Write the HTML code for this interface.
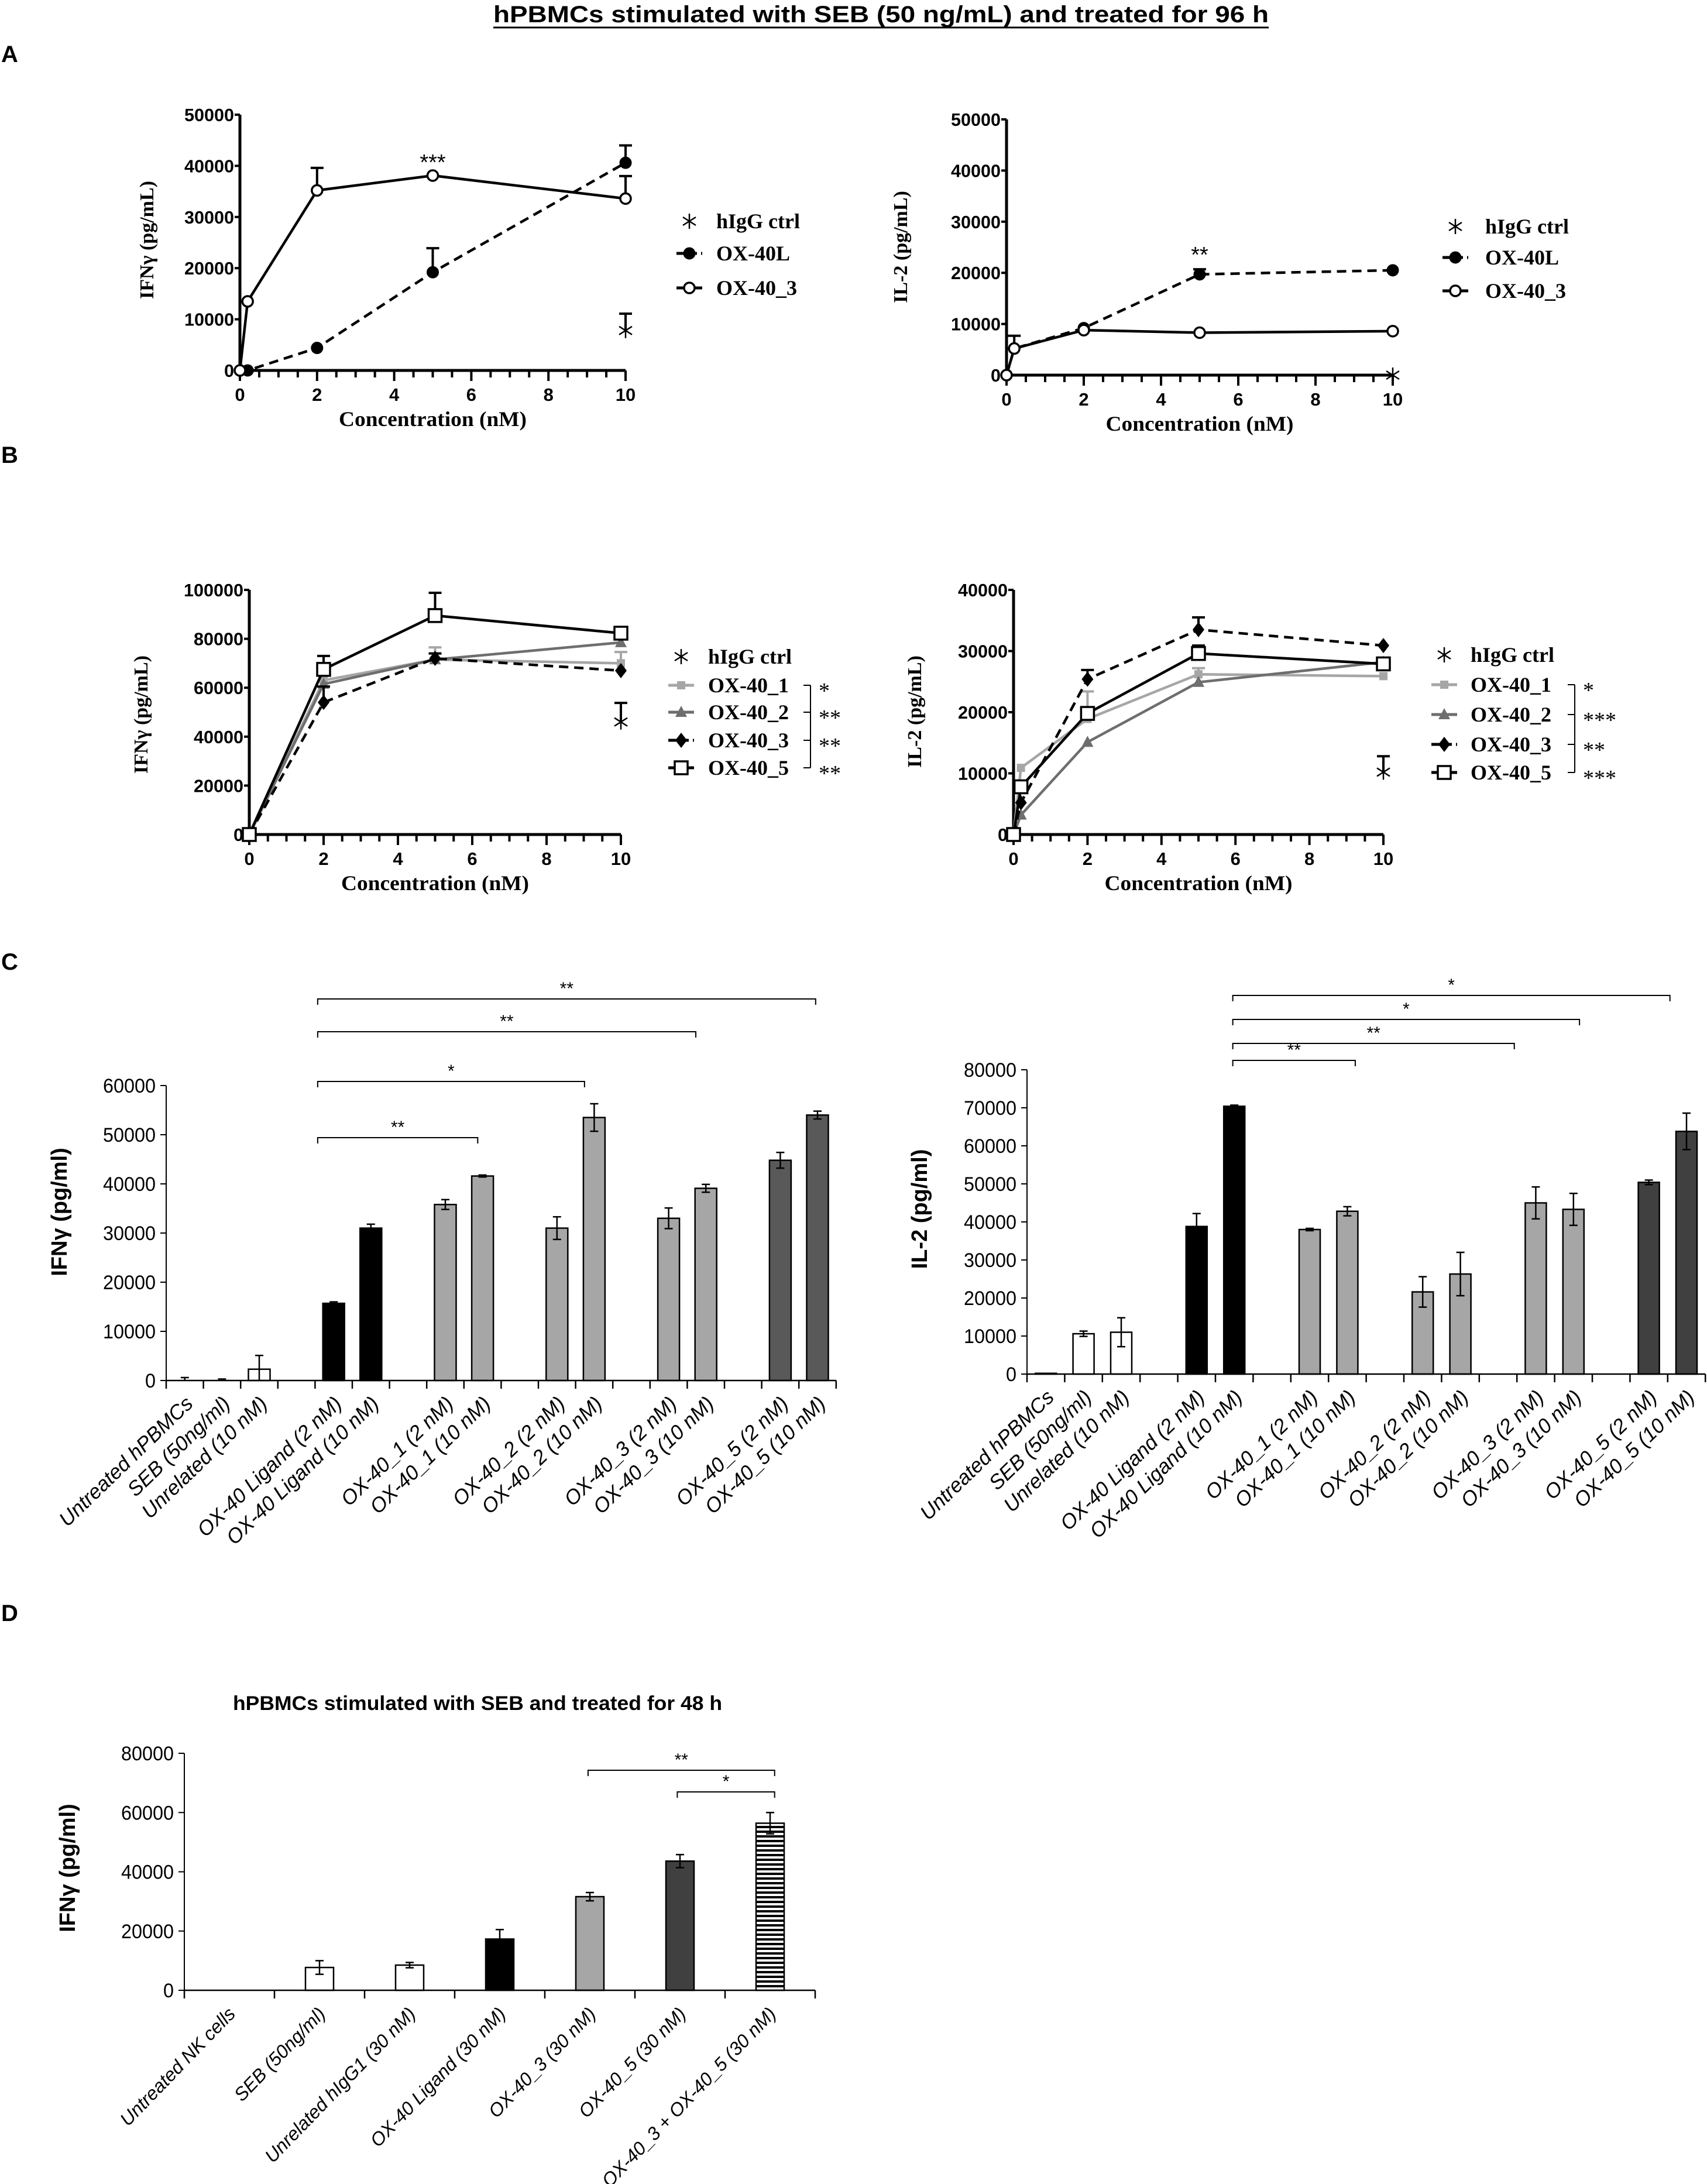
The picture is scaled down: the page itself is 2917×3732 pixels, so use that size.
<!DOCTYPE html>
<html><head><meta charset="utf-8"><style>
html,body{margin:0;padding:0;background:#fff}
svg{display:block}
</style></head><body>
<svg id="fig" xmlns="http://www.w3.org/2000/svg" width="2917" height="3732" viewBox="0 0 2917 3732">
<rect x="0" y="0" width="2917" height="3732" fill="#fff"/>
<text x="843" y="38" font-family="Liberation Sans, sans-serif" font-weight="bold" font-size="40" textLength="1325" lengthAdjust="spacingAndGlyphs">hPBMCs stimulated with SEB (50 ng/mL) and treated for 96 h</text>
<line x1="843" y1="47" x2="2168" y2="47" stroke="#000" stroke-width="3"/>
<text x="2" y="106" font-family="Liberation Sans, sans-serif" font-weight="bold" font-size="40">A</text>
<text x="2" y="791" font-family="Liberation Sans, sans-serif" font-weight="bold" font-size="40">B</text>
<text x="2" y="1657" font-family="Liberation Sans, sans-serif" font-weight="bold" font-size="40">C</text>
<text x="2" y="2770" font-family="Liberation Sans, sans-serif" font-weight="bold" font-size="40">D</text>
<text x="816" y="2922" text-anchor="middle" font-family="Liberation Sans, sans-serif" font-weight="bold" font-size="34" textLength="836" lengthAdjust="spacingAndGlyphs">hPBMCs stimulated with SEB and treated for 48 h</text>
<defs>
<pattern id="hstripes" patternUnits="userSpaceOnUse" width="10" height="8">
<rect x="0" y="0" width="10" height="8" fill="#fff"/><rect x="0" y="0" width="10" height="4" fill="#000"/>
</pattern>
</defs>
<g id="plots"></g>
</svg>
<script>
// ---------- Panel A data ----------
const aConc = [0, 0.2, 2, 5, 10];
const aIfnOx40L = [0, 0, 4400, 19200, 40600];
const aIfnOx40LErr = [0, 0, 0, 4700, 3400];
const aIfnOx403 = [0, 13500, 35200, 38100, 33600];
const aIfnOx403Err = [0, 0, 4400, 0, 4400];
const aIgGConc = [10];
const aIfnIgG = [7800];
const aIfnIgGErr = [3300];
const aIl2Ox40L = [0, 5200, 9200, 19700, 20500];
const aIl2Ox40LErr = [0, 0, 0, 1000, 0];
const aIl2Ox403 = [0, 5200, 8800, 8300, 8600];
const aIl2Ox403Err = [0, 2500, 0, 0, 0];
const aIl2IgG = [0];
const aIl2IgGErr = [0];
const aYTicks = [0, 10000, 20000, 30000, 40000, 50000];
const xTickLabels = [0, 2, 4, 6, 8, 10];
// ---------- Panel B data ----------
const bIfnConc = [0, 2, 5, 10];
const bIfn1 = [0, 63000, 71500, 70000];
const bIfn1Err = [0, 0, 5000, 4600];
const bIfn2 = [0, 61500, 71500, 78500];
const bIfn2Err = [0, 0, 0, 0];
const bIfn3 = [0, 54000, 72000, 67000];
const bIfn3Err = [0, 6500, 2000, 0];
const bIfn5 = [0, 67500, 89500, 82300];
const bIfn5Err = [0, 5500, 9300, 0];
const bIfnIgG = [46000];
const bIfnIgGErr = [7800];
const bIl2Conc = [0, 0.2, 2, 5, 10];
const bIl2_1 = [0, 10900, 18900, 26200, 25900];
const bIl2_1Err = [0, 0, 4500, 1000, 0];
const bIl2_2 = [0, 3200, 15100, 24900, 28200];
const bIl2_2Err = [0, 0, 0, 0, 0];
const bIl2_3 = [0, 5200, 25400, 33500, 30900];
const bIl2_3Err = [0, 0, 1500, 2000, 0];
const bIl2_5 = [0, 7800, 19800, 29600, 27900];
const bIl2_5Err = [0, 0, 0, 1300, 0];
const bIl2IgG = [10200];
const bIl2IgGErr = [2600];
const bIfnYTicks = [0, 20000, 40000, 60000, 80000, 100000];
const bIl2YTicks = [0, 10000, 20000, 30000, 40000];
const bIfnSig = ["*", "**", "**", "**"];
const bIl2Sig = ["*", "***", "**", "***"];
// ---------- Panel C data ----------
const cCategories = ["Untreated hPBMCs", "SEB (50ng/ml)", "Unrelated (10 nM)", "", "OX-40 Ligand (2 nM)", "OX-40 Ligand (10 nM)", "", "OX-40_1 (2 nM)", "OX-40_1 (10 nM)", "", "OX-40_2 (2 nM)", "OX-40_2 (10 nM)", "", "OX-40_3 (2 nM)", "OX-40_3 (10 nM)", "", "OX-40_5 (2 nM)", "OX-40_5 (10 nM)"];
const cIfn = [0, 0, 2300, null, 15700, 31000, null, 35800, 41600, null, 31000, 53500, null, 33000, 39100, null, 44800, 54000];
const cIfnErr = [600, 300, 2800, 0, 300, 800, 0, 1000, 200, 0, 2300, 2800, 0, 2100, 800, 0, 1600, 800];
const cIl2 = [200, 10600, 11000, null, 38800, 70400, null, 38000, 42800, null, 21600, 26300, null, 45000, 43300, null, 50400, 63800];
const cIl2Err = [0, 700, 3800, 0, 3400, 300, 0, 300, 1200, 0, 4000, 5700, 0, 4200, 4200, 0, 600, 4800];
const cIfnYTicks = [0, 10000, 20000, 30000, 40000, 50000, 60000];
const cIl2YTicks = [0, 10000, 20000, 30000, 40000, 50000, 60000, 70000, 80000];
const cIfnSig = ["**", "*", "**", "**"];
const cIl2Sig = ["**", "**", "*", "*"];
// ---------- Panel D data ----------
const dCategories = ["Untreated NK cells", "SEB (50ng/ml)", "Unrelated hIgG1 (30 nM)", "OX-40 Ligand (30 nM)", "OX-40_3 (30 nM)", "OX-40_5 (30 nM)", "OX-40_3 + OX-40_5 (30 nM)"];
const dIfn = [0, 7700, 8500, 17300, 31600, 43600, 56400];
const dIfnErr = [0, 2300, 900, 3200, 1400, 2200, 3600];
const dYTicks = [0, 20000, 40000, 60000, 80000];
const dSig = ["**", "*"];

const NS = "http://www.w3.org/2000/svg";
const root = document.getElementById("plots");
function mk(tag, attrs, parent) {
  const e = document.createElementNS(NS, tag);
  for (const k in attrs) e.setAttribute(k, attrs[k]);
  (parent || root).appendChild(e);
  return e;
}
function txt(s, attrs, parent) { const t = mk("text", attrs, parent); t.textContent = s; return t; }

function drawMarker(g, type, cx, cy, color) {
  let m;
  if (type === "fcircle") m = mk("circle", {cx, cy, r: 9, fill: "#000", stroke: "#000", "stroke-width": 3}, g);
  else if (type === "ocircle") m = mk("circle", {cx, cy, r: 9, fill: "#fff", stroke: "#000", "stroke-width": 3.5}, g);
  else if (type === "fsq") m = mk("rect", {x: cx - 7, y: cy - 7, width: 14, height: 14, fill: color}, g);
  else if (type === "tri") m = mk("polygon", {points: `${cx},${cy - 11} ${cx - 10},${cy + 8} ${cx + 10},${cy + 8}`, fill: color}, g);
  else if (type === "diamond") m = mk("polygon", {points: `${cx},${cy - 13} ${cx + 10},${cy} ${cx},${cy + 13} ${cx - 10},${cy}`, fill: "#000"}, g);
  else if (type === "osq") m = mk("rect", {x: cx - 11, y: cy - 11, width: 22, height: 22, fill: "#fff", stroke: "#000", "stroke-width": 3.5}, g);
  else if (type === "star") {
    m = mk("g", {stroke: "#000", "stroke-width": 2.5}, g);
    mk("line", {x1: cx, y1: cy - 13, x2: cx, y2: cy + 13}, m);
    mk("line", {x1: cx - 11, y1: cy - 7, x2: cx + 11, y2: cy + 7}, m);
    mk("line", {x1: cx - 11, y1: cy + 7, x2: cx + 11, y2: cy - 7}, m);
  }
  
  
  return m;
}

function lineChart(c) {
  const g = mk("g", {});
  
  
  const xs = v => c.x0 + (v / 10) * (c.x10 - c.x0);
  const ys = v => c.y0 - (v / c.ymax) * (c.y0 - c.ytop);
  const serif = "Liberation Serif, serif";
  const ya = mk("line", {x1: c.x0, y1: c.y0, x2: c.x0, y2: c.ytop, stroke: "#000", "stroke-width": 5}, g);
  
  
  const xa = mk("line", {x1: c.x0, y1: c.y0, x2: c.x10, y2: c.y0, stroke: "#000", "stroke-width": 5}, g);
  
  
  c.yTicks.forEach(v => {
    mk("line", {x1: c.x0 - 9, y1: ys(v), x2: c.x0, y2: ys(v), stroke: "#000", "stroke-width": 4}, g);
    const t = txt(String(v), {x: c.x0 - 10, y: ys(v) + 11, "text-anchor": "end", "font-family": "Liberation Sans, sans-serif", "font-weight": "bold", "font-size": 31, textLength: 17 * String(v).length, lengthAdjust: "spacingAndGlyphs"}, g);
    
    
  });
  for (let i = 0; i <= 20; i++) {
    const v = i * 0.5;
    mk("line", {x1: xs(v), y1: c.y0, x2: xs(v), y2: c.y0 + (i % 4 === 0 ? 18 : 12), stroke: "#000", "stroke-width": 4}, g);
  }
  xTickLabels.forEach(v => {
    const t = txt(String(v), {x: xs(v), y: c.y0 + 52, "text-anchor": "middle", "font-family": "Liberation Sans, sans-serif", "font-weight": "bold", "font-size": 31}, g);
    
    
  });
  const xt = txt("Concentration (nM)", {x: (c.x0 + c.x10) / 2, y: c.y0 + 95, "text-anchor": "middle", "font-family": serif, "font-weight": "bold", "font-size": 36, textLength: 321, lengthAdjust: "spacingAndGlyphs"}, g);
  
  
  const yt = txt(c.ytitle, {x: 0, y: 0, transform: `translate(${c.ytx},${c.tyc}) rotate(-90)`, "text-anchor": "middle", "font-family": serif, "font-weight": "bold", "font-size": 34}, g);
  
  
  c.series.forEach(s => {
    const sg = mk("g", {}, g);
    
    
    const col = s.color || "#000";
    s.y.forEach((v, i) => {
      const e = s.err[i];
      if (e > 0) {
        const px = xs(s.x[i]);
        mk("line", {x1: px, y1: ys(v), x2: px, y2: ys(v + e), stroke: col, "stroke-width": 4}, sg);
        mk("line", {x1: px - 11, y1: ys(v + e), x2: px + 11, y2: ys(v + e), stroke: col, "stroke-width": 4}, sg);
      }
    });
    if (s.y.length > 1) {
      const pts = s.y.map((v, i) => `${xs(s.x[i])},${ys(v)}`).join(" ");
      const pl = mk("polyline", {points: pts, fill: "none", stroke: col, "stroke-width": 4.5, "stroke-dasharray": s.dash ? "16 10" : "none"}, sg);
      
      
    }
    s.y.forEach((v, i) => drawMarker(sg, s.marker, xs(s.x[i]), ys(v), col));
  });
  c.series.forEach((s, i) => {
    const ly = c.legY[i];
    const lg = mk("g", {}, g);
    
    
    if (s.marker !== "star") {
      mk("line", {x1: c.legX - 22, y1: ly, x2: c.legX + 22, y2: ly, stroke: s.color || "#000", "stroke-width": 5, "stroke-dasharray": s.dash ? "14 7" : "none"}, lg);
    }
    drawMarker(lg, s.marker, c.legX, ly, s.color || "#000");
    txt(s.label, {x: c.legTextX, y: ly + 12, "font-family": serif, "font-weight": "bold", "font-size": 36}, lg);
  });
  (c.sigPts || []).forEach(p => {
    const t = txt(p.s, {x: xs(p.x), y: p.y, "text-anchor": "middle", "font-family": "Liberation Sans, sans-serif", "font-size": 38}, g);
    
    
  });
  if (c.brX) {
    const ys2 = c.legY.slice(1);
    const bg = mk("g", {stroke: "#000", "stroke-width": 2}, g);
    
    
    mk("line", {x1: c.brX, y1: ys2[0], x2: c.brX, y2: ys2[3]}, bg);
    ys2.forEach(y => mk("line", {x1: c.brX - 12, y1: y, x2: c.brX, y2: y}, bg));
    c.sig.forEach((s, i) => {
      const t = txt(s, {x: c.brX + 14, y: ys2[i] + 22, "font-family": "Liberation Serif, serif", "font-size": 38, stroke: "none"}, g);
      
      
    });
  }
}

lineChart({name: "panel-a-ifng-chart", x0: 410, x10: 1069, y0: 633, ytop: 196, ymax: 50000, yTicks: aYTicks,
  ytitle: "IFNγ (pg/mL)", ytx: 262, tyc: 410,
  series: [
    {label: "hIgG ctrl", x: aIgGConc, y: aIfnIgG, err: aIfnIgGErr, marker: "star"},
    {label: "OX-40L", x: aConc, y: aIfnOx40L, err: aIfnOx40LErr, marker: "fcircle", dash: true},
    {label: "OX-40_3", x: aConc, y: aIfnOx403, err: aIfnOx403Err, marker: "ocircle"}],
  legX: 1178, legTextX: 1224, legY: [378, 433, 492],
  sigPts: [{s: "***", x: 5, y: 290}]});

lineChart({name: "panel-a-il2-chart", x0: 1720, x10: 2380, y0: 641, ytop: 204, ymax: 50000, yTicks: aYTicks,
  ytitle: "IL-2 (pg/mL)", ytx: 1550, tyc: 422,
  series: [
    {label: "hIgG ctrl", x: aIgGConc, y: aIl2IgG, err: aIl2IgGErr, marker: "star"},
    {label: "OX-40L", x: aConc, y: aIl2Ox40L, err: aIl2Ox40LErr, marker: "fcircle", dash: true},
    {label: "OX-40_3", x: aConc, y: aIl2Ox403, err: aIl2Ox403Err, marker: "ocircle"}],
  legX: 2487, legTextX: 2538, legY: [387, 440, 497],
  sigPts: [{s: "**", x: 5, y: 448}]});

lineChart({name: "panel-b-ifng-chart", x0: 426, x10: 1061, y0: 1426, ytop: 1008, ymax: 100000, yTicks: bIfnYTicks,
  ytitle: "IFNγ (pg/mL)", ytx: 252, tyc: 1221,
  series: [
    {label: "hIgG ctrl", x: aIgGConc, y: bIfnIgG, err: bIfnIgGErr, marker: "star"},
    {label: "OX-40_1", x: bIfnConc, y: bIfn1, err: bIfn1Err, marker: "fsq", color: "#a6a6a6"},
    {label: "OX-40_2", x: bIfnConc, y: bIfn2, err: bIfn2Err, marker: "tri", color: "#6e6e6e"},
    {label: "OX-40_3", x: bIfnConc, y: bIfn3, err: bIfn3Err, marker: "diamond", dash: true},
    {label: "OX-40_5", x: bIfnConc, y: bIfn5, err: bIfn5Err, marker: "osq"}],
  legX: 1164, legTextX: 1210, legY: [1122, 1171, 1217, 1265, 1312],
  brX: 1385, sig: bIfnSig});

lineChart({name: "panel-b-il2-chart", x0: 1732, x10: 2364, y0: 1426, ytop: 1008, ymax: 40000, yTicks: bIl2YTicks,
  ytitle: "IL-2 (pg/mL)", ytx: 1574, tyc: 1216,
  series: [
    {label: "hIgG ctrl", x: aIgGConc, y: bIl2IgG, err: bIl2IgGErr, marker: "star"},
    {label: "OX-40_1", x: bIl2Conc, y: bIl2_1, err: bIl2_1Err, marker: "fsq", color: "#a6a6a6"},
    {label: "OX-40_2", x: bIl2Conc, y: bIl2_2, err: bIl2_2Err, marker: "tri", color: "#6e6e6e"},
    {label: "OX-40_3", x: bIl2Conc, y: bIl2_3, err: bIl2_3Err, marker: "diamond", dash: true},
    {label: "OX-40_5", x: bIl2Conc, y: bIl2_5, err: bIl2_5Err, marker: "osq"}],
  legX: 2468, legTextX: 2513, legY: [1119, 1170, 1221, 1272, 1320],
  brX: 2691, sig: bIl2Sig});

function barFill(name, darkCol) {
  if (name.indexOf("+") >= 0) return "url(#hstripes)";
  if (name.indexOf("Ligand") >= 0) return "#000";
  if (name.indexOf("OX-40_5") >= 0) return darkCol;
  if (name.indexOf("OX-40_") >= 0) return "#a6a6a6";
  return "#fff";
}

function barChart(c) {
  const g = mk("g", {});
  
  
  const n = c.cats.length;
  const cx = i => c.ax + c.slotW * (i + 0.5);
  const ys = v => c.ay - (v / c.ymax) * (c.ay - c.ytop);
  const sans = "Liberation Sans, sans-serif";
  const ya = mk("line", {x1: c.ax, y1: c.ay, x2: c.ax, y2: c.ytop, stroke: "#000", "stroke-width": 2}, g);
  
  
  c.yTicks.forEach(v => {
    mk("line", {x1: c.ax - 10, y1: ys(v), x2: c.ax, y2: ys(v), stroke: "#000", "stroke-width": 2}, g);
    const t = txt(String(v), {x: c.ax - 18, y: ys(v) + 12, "text-anchor": "end", "font-family": sans, "font-size": 34, textLength: 18 * String(v).length, lengthAdjust: "spacingAndGlyphs"}, g);
    
    
  });
  const yt = txt(c.ytitle, {x: 0, y: 0, transform: `translate(${c.ytx},${c.tyc}) rotate(-90)`, "text-anchor": "middle", "font-family": sans, "font-weight": "bold", "font-size": 38}, g);
  
  
  c.vals.forEach((v, i) => {
    if (v === null) return;
    const b = mk("rect", {x: cx(i) - c.barW / 2, y: ys(v), width: c.barW, height: c.ay - ys(v), fill: barFill(c.cats[i], c.dark), stroke: "#000", "stroke-width": 2.5}, g);
    
    
    const e = c.errs[i];
    if (e > 0) {
      const eg = mk("g", {stroke: "#000", "stroke-width": 2.5}, g);
      
      
      mk("line", {x1: cx(i), y1: ys(v - e) > c.ay ? c.ay : ys(v - e), x2: cx(i), y2: ys(v + e)}, eg);
      mk("line", {x1: cx(i) - 7, y1: ys(v + e), x2: cx(i) + 7, y2: ys(v + e)}, eg);
      if (ys(v - e) <= c.ay) mk("line", {x1: cx(i) - 7, y1: ys(v - e), x2: cx(i) + 7, y2: ys(v - e)}, eg);
    }
  });
  const xa = mk("line", {x1: c.ax, y1: c.ay, x2: c.ax + c.slotW * n, y2: c.ay, stroke: "#000", "stroke-width": 2.5}, g);
  
  
  for (let i = 0; i <= n; i++) mk("line", {x1: c.ax + c.slotW * i, y1: c.ay, x2: c.ax + c.slotW * i, y2: c.ay + 14, stroke: "#000", "stroke-width": 2.5}, g);
  c.cats.forEach((s, i) => {
    if (!s) return;
    const t = txt(s, {x: 0, y: 0, transform: `translate(${cx(i) + c.lblDx},${c.ay + c.lblDy}) rotate(${c.rot})`, "text-anchor": "end", "font-family": sans, "font-style": "italic", "font-size": c.lblSize}, g);
    
    
  });
  c.brackets.forEach((b, k) => {
    const bg = mk("g", {stroke: "#000", "stroke-width": 2}, g);
    
    
    const x1 = c.ax + c.slotW * b.from, x2 = c.ax + c.slotW * b.to;
    mk("path", {d: `M${x1},${b.y + 10} L${x1},${b.y} L${x2},${b.y} L${x2},${b.y + 10}`, fill: "none"}, bg);
    const t = txt(c.sig[k], {x: (x1 + x2) / 2, y: b.y - 8, "text-anchor": "middle", "font-family": sans, "font-size": 30, stroke: "none"}, g);
    
    
  });
}

barChart({name: "panel-c-ifng-chart", cats: cCategories, vals: cIfn, errs: cIfnErr, ax: 284, ay: 2359, ytop: 1855, ymax: 60000,
  slotW: 63.6, barW: 37, yTicks: cIfnYTicks, ytitle: "IFNγ (pg/ml)", ytx: 114, tyc: 2071, dark: "#595959",
  lblDx: 16, lblDy: 42, rot: -44, lblSize: 35,
  brackets: [{from: 4.07, to: 8.37, y: 1944}, {from: 4.07, to: 11.24, y: 1848}, {from: 4.07, to: 14.23, y: 1763}, {from: 4.07, to: 17.45, y: 1707}],
  sig: cIfnSig});

barChart({name: "panel-c-il2-chart", cats: cCategories, vals: cIl2, errs: cIl2Err, ax: 1755, ay: 2348, ytop: 1828, ymax: 80000,
  slotW: 64.4, barW: 36, yTicks: cIl2YTicks, ytitle: "IL-2 (pg/ml)", ytx: 1584, tyc: 2066, dark: "#404040",
  lblDx: 16, lblDy: 42, rot: -44, lblSize: 35,
  brackets: [{from: 5.46, to: 8.71, y: 1812}, {from: 5.46, to: 12.93, y: 1783}, {from: 5.46, to: 14.66, y: 1742}, {from: 5.46, to: 17.06, y: 1701}],
  sig: cIl2Sig});

barChart({name: "panel-d-ifng-chart", cats: dCategories, vals: dIfn, errs: dIfnErr, ax: 315, ay: 3401, ytop: 2996, ymax: 80000,
  slotW: 154, barW: 48, yTicks: dYTicks, ytitle: "IFNγ (pg/ml)", ytx: 128, tyc: 3192, dark: "#404040",
  lblDx: 12, lblDy: 42, rot: -46, lblSize: 32,
  brackets: [{from: 4.48, to: 6.55, y: 3025}, {from: 5.47, to: 6.55, y: 3062}],
  sig: dSig});
</script>
</body></html>
